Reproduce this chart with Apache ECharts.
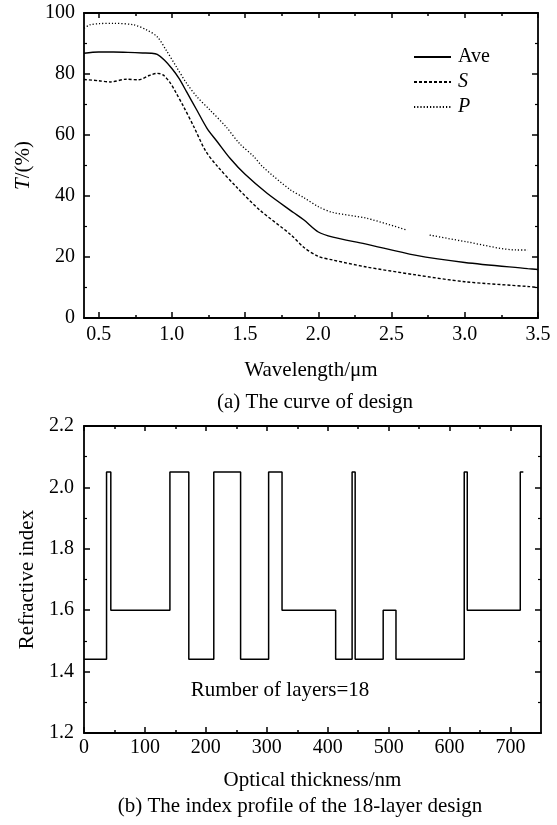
<!DOCTYPE html>
<html>
<head>
<meta charset="utf-8">
<script src="https://cdn.jsdelivr.net/npm/echarts@6/dist/echarts.min.js"></script>
<style>
  html, body { margin: 0; padding: 0; background: #fff; }
  #chart { width: 557px; height: 825px; }
</style>
</head>
<body>
<div id="chart"></div>
<script>
// 上图：透射率曲线 (波长 / μm, T / %)
const aveWl = [0.4, 0.5, 0.6, 0.7, 0.8, 0.86, 0.9, 0.95, 1.0, 1.05, 1.1, 1.17, 1.24, 1.31, 1.4, 1.5, 1.65, 1.83, 1.9, 2.0, 2.1, 2.32, 2.66, 3.0, 3.43, 3.5]
const aveT = [86.8, 87.2, 87.2, 87.1, 86.9, 86.8, 86.4, 84.5, 81.8, 78.5, 74.2, 68.2, 62.2, 57.8, 52.2, 47.1, 40.9, 34.6, 32.2, 28.2, 26.5, 24.3, 20.6, 18.2, 16.2, 15.9]

const sWl = [0.4, 0.5, 0.58, 0.69, 0.77, 0.85, 0.9, 0.94, 0.99, 1.03, 1.08, 1.15, 1.23, 1.31, 1.44, 1.6, 1.81, 1.9, 2.0, 2.1, 2.32, 2.67, 3.0, 3.44, 3.5]
const sT = [78.2, 77.8, 77.4, 78.3, 78.1, 79.6, 80.2, 79.7, 77.0, 73.7, 69.3, 62.7, 54.8, 49.8, 43.0, 35.4, 27.4, 23.2, 20.2, 19.0, 16.8, 14.1, 11.9, 10.3, 10.0]

// P 曲线在 2.6~2.76 之间有断开
const pWl = [0.4, 0.44, 0.5, 0.6, 0.74, 0.83, 0.9, 0.96, 1.03, 1.1, 1.17, 1.26, 1.37, 1.46, 1.56, 1.62, 1.81, 1.9, 2.0, 2.1, 2.33, 2.6, 2.68, 2.76, 3.01, 3.36, 3.43]
const pT = [95.0, 96.1, 96.5, 96.6, 96.1, 94.4, 92.2, 87.9, 82.4, 77.0, 72.6, 68.2, 62.7, 57.3, 52.9, 49.6, 42.0, 39.5, 36.5, 34.6, 32.7, 28.9, null, 27.2, 25.0, 22.3, 22.3]

const waveTicks = [0.5, 1.0, 1.5, 2.0, 2.5, 3.0, 3.5]
const waveMinor = [0.75, 1.25, 1.75, 2.25, 2.75, 3.25]

// 下图：折射率分布 (光学厚度 / nm)
const layerEdges = [0, 37, 44, 141, 172, 213, 257, 303, 325, 413, 440, 445, 491, 512, 624, 629, 716, 721]
const layerIndex = [1.44, 2.05, 1.6, 2.05, 1.44, 2.05, 1.44, 2.05, 1.6, 1.44, 2.05, 1.44, 1.6, 1.44, 2.05, 1.6, 2.05, 2.05]

const thickTicks = [0, 100, 200, 300, 400, 500, 600, 700]
const thickMinor = [50, 150, 250, 350, 450, 550, 650]

const FONT = "'Times New Roman', 'Liberation Serif', serif"
const BLACK = '#000'

function pairs(xs, ys) {
  return xs.map((x, i) => [x, ys[i] === null ? '-' : ys[i]])
}

// 生成一根x轴（主刻度/次刻度/镜像边框都用它）
function xAxisOf(grid, pos, min, max, ticks, len, opts) {
  return Object.assign({
    type: 'value',
    gridIndex: grid,
    position: pos,
    min: min,
    max: max,
    axisLine: { show: true, onZero: false, lineStyle: { color: BLACK, width: 1.8 } },
    axisTick: { show: true, inside: true, length: len, customValues: ticks, lineStyle: { color: BLACK, width: 1.5 } },
    axisLabel: { show: false },
    splitLine: { show: false },
  }, opts || {})
}

function yAxisOf(grid, pos, min, max, interval, showLabel, opts) {
  return Object.assign({
    type: 'value',
    gridIndex: grid,
    position: pos,
    min: min,
    max: max,
    interval: interval,
    axisLine: { show: true, onZero: false, lineStyle: { color: BLACK, width: 1.8 } },
    axisTick: { show: true, inside: true, length: 6, lineStyle: { color: BLACK, width: 1.5 } },
    minorTick: { show: true, splitNumber: 2, length: 3, lineStyle: { color: BLACK, width: 1.2 } },
    axisLabel: { show: showLabel, color: BLACK, fontFamily: FONT, fontSize: 20, margin: 9 },
    splitLine: { show: false },
  }, opts || {})
}

const noLine = { axisLine: { show: false, onZero: false } }

const chart = echarts.init(document.getElementById('chart'))

const option = {
  animation: false,
  backgroundColor: '#fff',
  grid: [
    { left: 84, right: 19, top: 13, height: 305 },
    { left: 84, right: 16, top: 426, height: 307 },
  ],
  xAxis: [
    xAxisOf(0, 'bottom', 0.4, 3.5, waveTicks, 6, {
      name: 'Wavelength/μm',
      nameLocation: 'middle',
      nameGap: 42,
      nameTextStyle: { color: BLACK, fontFamily: FONT, fontSize: 21 },
      axisLabel: {
        show: true, customValues: waveTicks, color: BLACK, fontFamily: FONT, fontSize: 20, margin: 7,
        formatter: v => v.toFixed(1),
      },
    }),
    xAxisOf(0, 'bottom', 0.4, 3.5, waveMinor, 3, noLine),
    xAxisOf(0, 'top', 0.4, 3.5, waveTicks, 5),
    xAxisOf(0, 'top', 0.4, 3.5, waveMinor, 3, noLine),
    xAxisOf(1, 'bottom', 0, 750, thickTicks, 6, {
      name: 'Optical thickness/nm',
      nameLocation: 'middle',
      nameGap: 37,
      nameTextStyle: { color: BLACK, fontFamily: FONT, fontSize: 21 },
      axisLabel: { show: true, customValues: thickTicks, color: BLACK, fontFamily: FONT, fontSize: 20, margin: 5 },
    }),
    xAxisOf(1, 'bottom', 0, 750, thickMinor, 3, noLine),
    xAxisOf(1, 'top', 0, 750, thickTicks, 5),
    xAxisOf(1, 'top', 0, 750, thickMinor, 3, noLine),
  ],
  yAxis: [
    yAxisOf(0, 'left', 0, 100, 20, true, {
      name: '{i|T}/(%)',
      nameLocation: 'middle',
      nameGap: 46,
      nameTextStyle: {
        color: BLACK, fontFamily: FONT, fontSize: 21,
        rich: { i: { fontStyle: 'italic', fontFamily: FONT, fontSize: 21, color: BLACK } },
      },
    }),
    yAxisOf(0, 'right', 0, 100, 20, false),
    yAxisOf(1, 'left', 1.2, 2.2, 0.2, true, {
      name: 'Refractive index',
      nameLocation: 'middle',
      nameGap: 45,
      nameTextStyle: { color: BLACK, fontFamily: FONT, fontSize: 21 },
      axisLabel: {
        show: true, color: BLACK, fontFamily: FONT, fontSize: 20, margin: 10,
        formatter: v => v.toFixed(1),
      },
    }),
    yAxisOf(1, 'right', 1.2, 2.2, 0.2, false),
  ],
  legend: {
    orient: 'vertical',
    left: 413,
    top: 47,
    padding: 0,
    itemWidth: 37,
    itemHeight: 14,
    itemGap: 5,
    selectedMode: false,
    itemStyle: { opacity: 0 },
    data: ['Ave', 'S', 'P'],
    formatter: name => name === 'Ave' ? name : '{i|' + name + '}',
    textStyle: {
      color: BLACK, fontFamily: FONT, fontSize: 20, padding: [0, 0, 0, 2],
      rich: { i: { fontStyle: 'italic', fontFamily: FONT, fontSize: 20, color: BLACK } },
    },
  },
  series: [
    {
      name: 'Ave', type: 'line', xAxisIndex: 0, yAxisIndex: 0,
      data: pairs(aveWl, aveT), showSymbol: false, symbol: 'none', smooth: 0.3,
      lineStyle: { color: BLACK, width: 1.4, type: 'solid' },
      itemStyle: { color: BLACK },
    },
    {
      name: 'S', type: 'line', xAxisIndex: 0, yAxisIndex: 0,
      data: pairs(sWl, sT), showSymbol: false, symbol: 'none', smooth: 0.3,
      lineStyle: { color: BLACK, width: 1.4, type: [3, 2] },
      itemStyle: { color: BLACK },
    },
    {
      name: 'P', type: 'line', xAxisIndex: 0, yAxisIndex: 0,
      data: pairs(pWl, pT), showSymbol: false, symbol: 'none', smooth: 0.3, connectNulls: false,
      lineStyle: { color: BLACK, width: 1.3, type: [1.2, 2] },
      itemStyle: { color: BLACK },
    },
    {
      name: 'profile', type: 'line', xAxisIndex: 4, yAxisIndex: 2,
      data: pairs(layerEdges, layerIndex), step: 'end', showSymbol: false, symbol: 'none',
      lineStyle: { color: BLACK, width: 1.5 },
    },
  ],
  graphic: [
    {
      type: 'text', x: 315, y: 402,
      style: { text: '(a) The curve of design', font: "21px 'Times New Roman', 'Liberation Serif', serif", fill: BLACK, textAlign: 'center', textVerticalAlign: 'middle' },
    },
    {
      type: 'text', x: 280, y: 690,
      style: { text: 'Rumber of layers=18', font: "21px 'Times New Roman', 'Liberation Serif', serif", fill: BLACK, textAlign: 'center', textVerticalAlign: 'middle' },
    },
    {
      type: 'text', x: 300, y: 806,
      style: { text: '(b) The index profile of the 18-layer design', font: "21px 'Times New Roman', 'Liberation Serif', serif", fill: BLACK, textAlign: 'center', textVerticalAlign: 'middle' },
    },
  ],
}

chart.setOption(option)
</script>
</body>
</html>
